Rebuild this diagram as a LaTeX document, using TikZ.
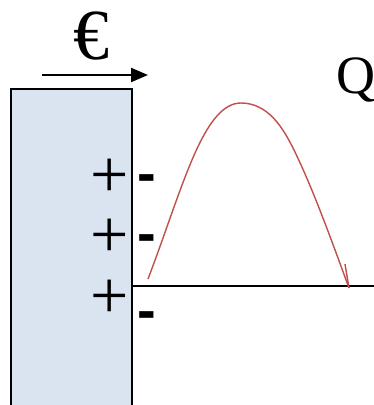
\documentclass[tikz,border=0pt]{standalone}
\usepackage{fontspec}
\setmainfont{Liberation Serif}
\newfontfamily\barfont{Liberation Sans}
\usetikzlibrary{arrows.meta}
\definecolor{boxblue}{HTML}{DAE3F0}
\definecolor{curvered}{HTML}{C0504D}
\tikzset{
  sign/.style={inner sep=0pt, text height=34pt, text depth=0pt, font=\fontsize{68}{68}\selectfont},
  minusbar/.style={inner sep=0pt, text height=17.5pt, text depth=-10pt, font=\barfont\bfseries\fontsize{56}{56}\selectfont},
}
\begin{document}
\begin{tikzpicture}[x=1pt,y=-1pt]
\useasboundingbox (0,0) rectangle (374,405);
\fill[white] (0,0) rectangle (374,405);
\filldraw[fill=boxblue, draw=black, line width=1.6pt] (11,420) -- (11,89) -- (132,89) -- (132,420);
\draw[line width=1.4pt] (132,286) -- (374,286);
\coordinate (a1) at (42,75);
\coordinate (a2) at (148,75);
\draw[line width=2.2pt, -{Triangle[length=17pt,width=14pt]}] (a1) -- (a2);
\node[inner sep=0pt, font=\fontsize{72}{72}\selectfont] (euro) at (92,36) {€};
\node[inner sep=0pt, font=\fontsize{54}{54}\selectfont] (q) at (356,80) {Q};
\node[sign] (p1) at (110,180) {+};
\node[sign] (p2) at (110,240) {+};
\node[sign] (p3) at (110,301) {+};
\node[minusbar] (m1) at (147,184) {-};
\node[minusbar] (m2) at (147,244) {-};
\node[minusbar] (m3) at (147,321) {-};
\coordinate (c0) at (148,279);
\coordinate (c1) at (241,103);
\coordinate (c2) at (349,288);
\draw[curvered, line width=1.4pt] (c0) .. controls (182,190) and (203,103) .. (c1)
   .. controls (268,103) and (283,128) .. (293,148) .. controls (313,188) and (335,250) .. (c2);
\draw[curvered, line width=1.4pt] (345,264) -- (c2);
\end{tikzpicture}
\end{document}
